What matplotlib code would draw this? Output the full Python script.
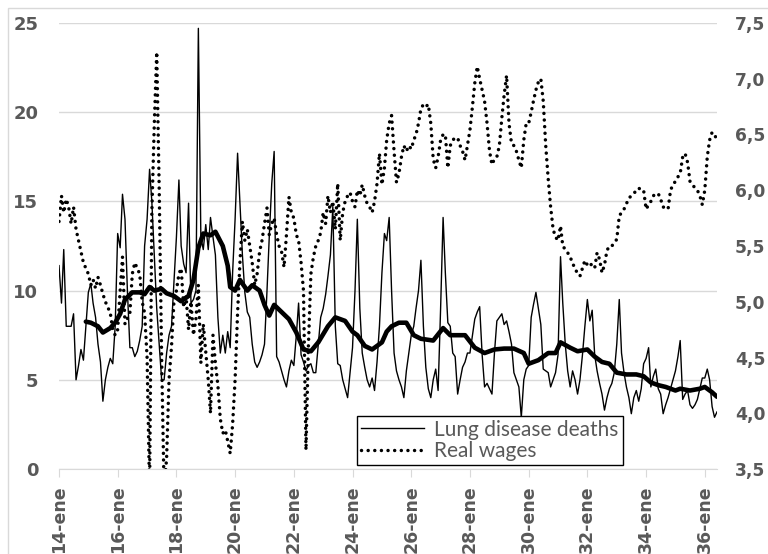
import pandas as pd
import matplotlib
matplotlib.use('Agg')
import matplotlib.pyplot as plt
import matplotlib.dates as mdates
from matplotlib.lines import Line2D
from matplotlib.patches import Rectangle
from matplotlib.ticker import FuncFormatter, MultipleLocator

# Monthly lung disease deaths, Jan 1914 - Jun 1936 (one row per year)
lung_deaths = [
    11.4, 9.3, 12.3, 8.0, 8.0, 8.0, 8.7, 5.0, 5.8, 6.7, 6.1, 8.0,      # 1914
    9.9, 10.4, 9.3, 8.5, 7.0, 6.0, 3.8, 5.0, 5.7, 6.2, 5.9, 8.0,       # 1915
    13.2, 12.4, 15.4, 14.0, 10.0, 6.8, 6.8, 6.3, 6.6, 7.2, 8.0, 12.5,  # 1916
    14.0, 16.8, 15.0, 12.0, 9.0, 7.0, 5.0, 5.0, 6.5, 7.5, 8.0, 10.5,   # 1917
    13.0, 16.2, 12.5, 11.5, 11.0, 14.9, 9.3, 9.5, 10.0, 24.7, 13.0, 12.3,  # 1918
    13.7, 12.3, 14.1, 13.0, 12.0, 8.5, 6.5, 7.5, 6.5, 7.7, 6.8, 11.0,  # 1919
    14.0, 17.7, 15.0, 12.0, 9.9, 8.8, 8.5, 7.0, 6.0, 5.7, 6.0, 6.4,    # 1920
    7.0, 10.0, 13.0, 16.0, 17.8, 6.3, 6.0, 5.5, 5.0, 4.6, 5.5, 6.1,    # 1921
    5.8, 7.5, 9.3, 6.4, 6.0, 5.5, 5.8, 5.9, 5.4, 5.4, 7.0, 8.5,        # 1922
    9.0, 9.8, 10.8, 12.0, 14.7, 8.0, 5.9, 5.8, 5.0, 4.5, 4.0, 5.4,     # 1923
    6.8, 10.0, 14.0, 9.0, 6.5, 5.7, 5.0, 4.6, 5.1, 4.4, 6.0, 8.0,      # 1924
    11.0, 13.2, 12.8, 14.1, 10.0, 6.5, 5.5, 5.0, 4.6, 4.0, 5.5, 6.5,   # 1925
    7.5, 8.0, 9.0, 10.0, 11.7, 8.0, 5.7, 4.5, 4.0, 5.0, 5.6, 4.4,      # 1926
    9.0, 14.1, 11.0, 8.2, 8.0, 6.5, 6.3, 4.2, 5.0, 5.7, 6.0, 6.5,      # 1927
    6.5, 7.5, 8.4, 8.8, 9.1, 6.4, 4.6, 4.8, 4.5, 4.2, 6.5, 8.3,        # 1928
    8.5, 8.7, 8.1, 8.3, 7.7, 7.0, 5.4, 5.0, 4.6, 2.9, 5.0, 5.6,        # 1929
    5.8, 8.5, 9.2, 9.9, 9.0, 8.1, 5.6, 5.5, 5.4, 4.6, 5.0, 5.4,        # 1930
    6.4, 11.9, 9.3, 7.0, 5.5, 4.6, 5.5, 5.0, 4.2, 5.0, 6.4, 8.0,       # 1931
    9.5, 8.3, 8.9, 6.4, 5.5, 4.8, 4.2, 3.3, 4.0, 4.5, 4.8, 5.4,        # 1932
    7.0, 9.5, 6.5, 5.4, 4.6, 4.0, 3.1, 4.0, 4.4, 3.8, 4.5, 5.9,        # 1933
    6.2, 6.8, 4.6, 5.2, 5.6, 4.5, 4.2, 3.1, 3.6, 4.0, 4.5, 5.0,        # 1934
    5.5, 6.3, 7.2, 3.9, 4.2, 4.4, 3.6, 3.4, 3.6, 3.9, 4.5, 5.1,        # 1935
    5.1, 5.6, 5.0, 3.5, 2.9, 3.2,                                      # 1936
]

# Monthly real wages (right axis), same months
real_wages = [
    5.72, 5.95, 5.8, 5.92, 5.85, 5.7, 5.85, 5.65, 5.55, 5.45, 5.35, 5.3,   # 1914
    5.25, 5.15, 5.2, 5.12, 5.22, 5.15, 5.07, 5.0, 4.95, 4.9, 4.75, 4.7,    # 1915
    4.75, 5.1, 5.4, 4.8, 4.85, 4.9, 5.25, 5.35, 5.3, 5.25, 5.0, 4.9,       # 1916
    4.5, 3.3, 5.8, 6.6, 7.24, 6.0, 4.5, 3.3, 3.6, 4.3, 4.6, 5.0,           # 1917
    5.1, 5.25, 5.3, 4.95, 5.05, 4.75, 5.0, 4.7, 4.85, 5.15, 4.45, 4.8,     # 1918
    4.55, 4.3, 4.0, 4.7, 4.45, 4.25, 3.95, 3.82, 3.85, 3.75, 3.64, 3.9,    # 1919
    4.3, 4.9, 5.35, 5.72, 5.55, 5.65, 5.5, 5.35, 5.15, 5.25, 5.45, 5.55,   # 1920
    5.7, 5.84, 5.6, 5.7, 5.75, 5.6, 5.5, 5.45, 5.31, 5.6, 5.94, 5.8,       # 1921
    5.75, 5.6, 5.55, 5.35, 5.1, 3.67, 4.6, 5.25, 5.4, 5.5, 5.55, 5.62,     # 1922
    5.8, 5.7, 5.95, 5.8, 5.9, 5.65, 6.06, 5.55, 5.8, 5.9, 5.95, 5.98,      # 1923
    5.9, 5.85, 6.0, 5.95, 6.05, 5.95, 5.88, 5.85, 5.8, 5.9, 6.06, 6.33,    # 1924
    6.05, 6.2, 6.45, 6.6, 6.67, 6.35, 6.07, 6.15, 6.3, 6.4, 6.35, 6.4,     # 1925
    6.37, 6.45, 6.5, 6.6, 6.73, 6.77, 6.75, 6.77, 6.6, 6.28, 6.2, 6.3,     # 1926
    6.45, 6.5, 6.5, 6.2, 6.4, 6.45, 6.47, 6.47, 6.4, 6.35, 6.27, 6.4,      # 1927
    6.54, 6.75, 6.96, 7.11, 7.0, 6.9, 6.8, 6.6, 6.35, 6.23, 6.28, 6.3,     # 1928
    6.4, 6.65, 6.85, 7.03, 6.6, 6.42, 6.4, 6.35, 6.27, 6.2, 6.45, 6.6,     # 1929
    6.6, 6.7, 6.8, 6.9, 6.97, 7.0, 6.8, 6.4, 6.1, 5.85, 5.65, 5.58,        # 1930
    5.55, 5.68, 5.5, 5.47, 5.44, 5.4, 5.35, 5.29, 5.26, 5.23, 5.3, 5.37,   # 1931
    5.33, 5.35, 5.32, 5.3, 5.44, 5.38, 5.26, 5.33, 5.46, 5.5, 5.5, 5.53,   # 1932
    5.56, 5.77, 5.8, 5.83, 5.88, 5.93, 5.95, 5.97, 6.0, 6.02, 6.0, 6.0,    # 1933
    5.83, 5.87, 5.9, 5.95, 5.97, 5.97, 5.92, 5.85, 5.84, 5.83, 6.0, 6.05,  # 1934
    6.08, 6.12, 6.15, 6.3, 6.33, 6.25, 6.08, 6.05, 6.02, 6.0, 5.95, 5.87,  # 1935
    6.0, 6.3, 6.45, 6.52, 6.5, 6.45,                                       # 1936
]

# 12-month moving average of deaths (month index from Jan 1914)
ma_month = [11, 13, 16, 18, 21, 23, 25, 27, 30, 33, 35, 37, 39, 42, 44, 47, 50, 53, 55, 57,
            59, 62, 64, 67, 69, 70, 72, 74, 77, 79, 82, 84, 86, 88, 91, 94, 97, 100, 103, 106,
            110, 113, 117, 120, 122, 125, 128, 132, 134, 136, 139, 142, 145, 148, 153, 157, 160, 166, 170, 174,
            178, 182, 186, 190, 192, 196, 200, 203, 205, 209, 212, 216, 219, 222, 225, 228, 232, 236, 239, 242,
            245, 248, 252, 254, 258, 262, 264, 267, 269]
ma_value = [8.26, 8.2, 8.0, 7.65, 7.9, 8.2, 8.7, 9.5, 9.9, 9.9, 9.8, 10.2, 10.0, 10.1, 9.85, 9.7, 9.4, 9.7, 10.6, 12.4,
            13.2, 13.1, 13.3, 12.5, 11.4, 10.2, 10.0, 10.6, 10.0, 10.3, 10.0, 9.2, 8.6, 9.2, 8.8, 8.4, 7.65, 6.7, 6.6, 7.1,
            8.0, 8.5, 8.3, 7.7, 7.5, 6.9, 6.7, 7.1, 7.7, 8.0, 8.2, 8.2, 7.5, 7.3, 7.2, 7.9, 7.5, 7.5, 6.8, 6.5,
            6.7, 6.75, 6.75, 6.5, 5.9, 6.1, 6.5, 6.5, 7.1, 6.8, 6.6, 6.7, 6.3, 6.0, 5.9, 5.4, 5.3, 5.3, 5.2, 4.85,
            4.7, 4.6, 4.4, 4.5, 4.4, 4.5, 4.6, 4.3, 4.05]

start = pd.Timestamp('1914-01-01')
months = pd.date_range(start, periods=len(lung_deaths), freq='MS')
ma_dates = [start + pd.DateOffset(months=m) for m in ma_month]

grey = '#595959'
dots = (0, (0.01, 1.9))

plt.rcParams['font.family'] = ['DejaVu Sans']
plt.rcParams['font.weight'] = 'bold'

fig = plt.figure(figsize=(7.68, 5.54), dpi=100)
fig.add_artist(Rectangle((8 / 768, -0.05), 1.1, 1 - 8 / 554 + 0.05, transform=fig.transFigure,
                         fill=False, edgecolor='#d9d9d9', lw=1))
ax = fig.add_axes([59 / 768, 1 - 469 / 554, 658 / 768, 446 / 554])
ax2 = ax.twinx()

ax.plot(months, lung_deaths, color='black', lw=1.0)
ax.plot(ma_dates, ma_value, color='black', lw=3.3, solid_joinstyle='round', solid_capstyle='round')
ax2.plot(months, real_wages, color='black', lw=2.5, linestyle=dots, dash_capstyle='round')

ax.set_ylim(0, 25)
ax2.set_ylim(3.5, 7.5)
ax.set_xlim(start, months[-1])
ax.yaxis.set_major_locator(MultipleLocator(5))
ax2.yaxis.set_major_locator(MultipleLocator(0.5))
ax2.yaxis.set_major_formatter(FuncFormatter(lambda v, p: f'{v:.1f}'.replace('.', ',')))

ax.xaxis.set_major_locator(mdates.YearLocator(2, month=1, day=1))
ax.xaxis.set_major_formatter(mdates.DateFormatter('%y-ene'))

ax.grid(axis='y', color='#d9d9d9', lw=1)
ax.set_axisbelow(True)
for a in (ax, ax2):
    for s in a.spines.values():
        s.set_visible(False)
ax.spines['bottom'].set_visible(True)
ax.spines['bottom'].set_color('#d9d9d9')

ax.tick_params(axis='y', length=0, pad=15, labelcolor=grey, labelsize=13)
ax2.tick_params(axis='y', length=0, pad=13, labelcolor=grey, labelsize=12.3)
ax.tick_params(axis='x', length=6, color='#d9d9d9', pad=6, labelcolor=grey, labelsize=12.5,
               labelrotation=90)

handles = [Line2D([], [], color='black', lw=1.0),
           Line2D([], [], color='black', lw=2.5, linestyle=dots, dash_capstyle='round')]
leg = ax2.legend(handles, ['Lung disease deaths', 'Real wages'], loc='lower left',
                 bbox_to_anchor=(0.453, 0.009), frameon=True, fancybox=False, framealpha=1,
                 edgecolor='black', borderpad=0.2, labelspacing=0.05, handlelength=3.0,
                 handletextpad=0.5, borderaxespad=0, labelcolor=grey,
                 prop={'family': ['Lato', 'DejaVu Sans'], 'size': 15, 'weight': 'normal'})
leg.get_frame().set_linewidth(1.0)

fig.savefig('out.png', dpi=100)
